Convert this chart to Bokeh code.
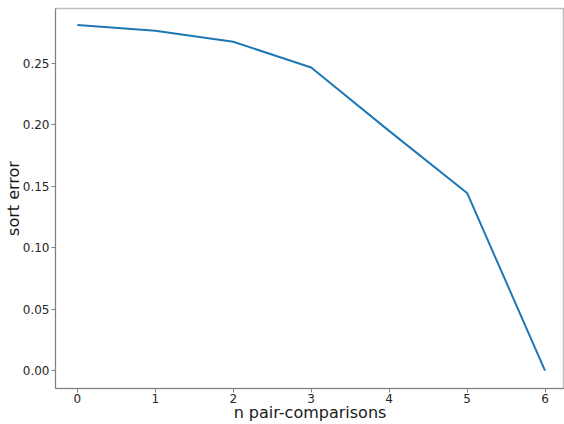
from bokeh.plotting import figure
from bokeh.embed import file_html
from bokeh.resources import INLINE
from bokeh.models import Range1d, FixedTicker, CustomJSTickFormatter

# sort error after n pair-comparisons
n_comparisons = [0, 1, 2, 3, 4, 5, 6]
sort_error = [0.281, 0.2765, 0.2675, 0.2465, 0.195, 0.1445, 0.0]

x_ticks = [0, 1, 2, 3, 4, 5, 6]
y_ticks = [0.0, 0.05, 0.10, 0.15, 0.20, 0.25]

p = figure(width=564, height=424, output_backend="svg", toolbar_location=None,
           x_range=Range1d(-0.28, 6.25), y_range=Range1d(-0.0145, 0.2945),
           min_border_left=0, min_border_right=0, min_border_top=8, min_border_bottom=0)

p.line(n_comparisons, sort_error, line_color="#1f77b4", line_width=2)

p.grid.visible = False
p.outline_line_color = "#bfbfbf"
p.outline_line_width = 1.5

p.xaxis.ticker = FixedTicker(ticks=x_ticks)
p.yaxis.ticker = FixedTicker(ticks=y_ticks)
p.yaxis.formatter = CustomJSTickFormatter(code="return tick.toFixed(2);")

for ax in (p.xaxis, p.yaxis):
    ax.axis_line_color = "#808080"
    ax.major_tick_line_color = "#808080"
    ax.major_tick_out = 4
    ax.major_tick_in = 0
    ax.minor_tick_line_color = None
    ax.major_label_standoff = 2
    ax.major_label_text_font = "DejaVu Sans"
    ax.major_label_text_font_size = "12px"
    ax.major_label_text_color = "#262626"
    ax.axis_label_text_font = "DejaVu Sans"
    ax.axis_label_text_font_size = "16px"
    ax.axis_label_text_font_style = "normal"
    ax.axis_label_text_color = "#1a1a1a"

p.xaxis.axis_label = "n pair-comparisons"
p.yaxis.axis_label = "sort error"
p.xaxis.major_label_standoff = 1
p.xaxis.axis_label_standoff = -3
p.xaxis.axis_label_text_line_height = 0.8
p.yaxis.axis_label_standoff = -3

open("out.html", "w").write(file_html(p, INLINE))
